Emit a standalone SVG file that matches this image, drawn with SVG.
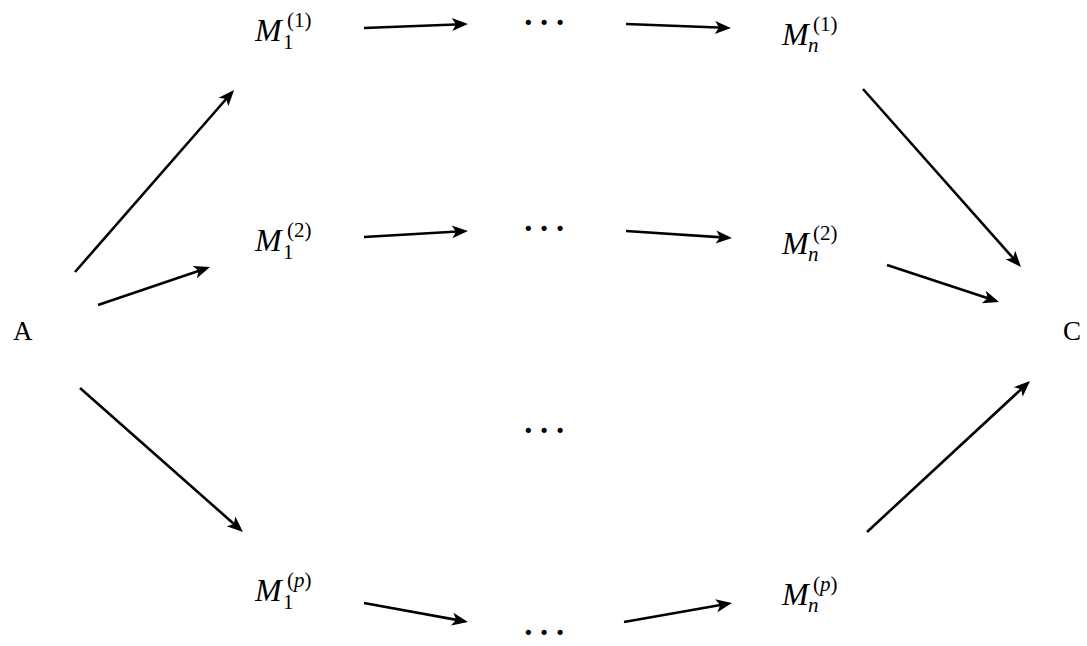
<svg xmlns="http://www.w3.org/2000/svg" width="1087" height="646" viewBox="0 0 1087 646">
<style>
.lbl{font-family:"Liberation Serif",serif;font-size:27px;fill:#000}
.m{font-family:"Liberation Serif",serif;font-size:32px;fill:#000}
.it{font-style:italic}
.up{font-style:normal}
.sub{font-size:21px}
.dots{font-family:"Liberation Serif",serif;font-size:32px;fill:#000;letter-spacing:5.2px;font-weight:bold}
.edge{stroke:#000;stroke-width:2.6;fill:none;marker-end:url(#arr)}
</style>
<defs>
<marker id="arr" markerUnits="userSpaceOnUse" viewBox="-12 -8 20 16" markerWidth="20" markerHeight="16" refX="0" refY="0" orient="auto" overflow="visible">
<path d="M6,0 L-10,-6.5 L-6,0 L-10,6.5 Z" fill="#000"/>
</marker>
</defs>
<rect width="1087" height="646" fill="#fff"/>
<g id="A"><text class="lbl" x="13" y="340">A</text></g>
<g id="C"><text class="lbl" x="1063" y="340">C</text></g>
<g id="M11"><text class="m"><tspan class="it" x="255" y="41">M</tspan><tspan class="sub up" x="283" y="49">1</tspan><tspan class="sub up" x="287" y="27">(1)</tspan></text></g>
<g id="Mn1"><text class="m"><tspan class="it" x="782" y="45">M</tspan><tspan class="sub it" x="808" y="52">n</tspan><tspan class="sub up" x="813" y="31">(1)</tspan></text></g>
<g id="M12"><text class="m"><tspan class="it" x="255" y="251">M</tspan><tspan class="sub up" x="283" y="259">1</tspan><tspan class="sub up" x="287" y="237">(2)</tspan></text></g>
<g id="Mn2"><text class="m"><tspan class="it" x="782" y="254">M</tspan><tspan class="sub it" x="808" y="261">n</tspan><tspan class="sub up" x="813" y="240">(2)</tspan></text></g>
<g id="M1p"><text class="m"><tspan class="it" x="255" y="601">M</tspan><tspan class="sub up" x="283" y="609">1</tspan><tspan class="sub up" x="287" y="587">(<tspan class="it">p</tspan>)</tspan></text></g>
<g id="Mnp"><text class="m"><tspan class="it" x="782" y="605">M</tspan><tspan class="sub it" x="808" y="612">n</tspan><tspan class="sub up" x="813" y="591">(<tspan class="it">p</tspan>)</tspan></text></g>
<g id="dots1"><text class="dots" x="523" y="33">···</text></g>
<g id="dots2"><text class="dots" x="523" y="239">···</text></g>
<g id="dots3"><text class="dots" x="523" y="441">···</text></g>
<g id="dots4"><text class="dots" x="523" y="643">···</text></g>
<g id="connectors">
<line class="edge" x1="75" y1="272" x2="230.1" y2="94.5"/>
<line class="edge" x1="98" y1="305" x2="204.3" y2="268.9"/>
<line class="edge" x1="80" y1="388" x2="238.5" y2="528"/>
<line class="edge" x1="364" y1="28" x2="462" y2="24.2"/>
<line class="edge" x1="626" y1="24" x2="725" y2="27.8"/>
<line class="edge" x1="364" y1="237" x2="462" y2="231.3"/>
<line class="edge" x1="626" y1="231" x2="726" y2="237.6"/>
<line class="edge" x1="364" y1="603" x2="462.1" y2="620.9"/>
<line class="edge" x1="624" y1="622" x2="726.1" y2="604"/>
<line class="edge" x1="863" y1="89" x2="1017" y2="262.5"/>
<line class="edge" x1="887" y1="265" x2="993.3" y2="300.1"/>
<line class="edge" x1="867" y1="532" x2="1025.6" y2="385.1"/>
</g>
</svg>
